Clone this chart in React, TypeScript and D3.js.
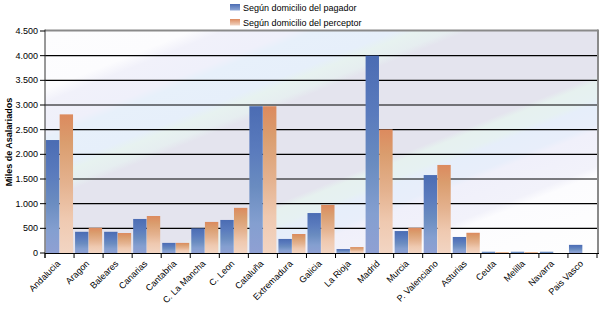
import React from 'react';
import * as d3 from 'd3';

const categories = ['Andalucia', 'Aragon', 'Baleares', 'Canarias', 'Cantabria', 'C. La Mancha', 'C. Leon', 'Cataluña', 'Extremadura', 'Galicia', 'La Rioja', 'Madrid', 'Murcia', 'P. Valenciano', 'Asturias', 'Ceuta', 'Melilla', 'Navarra', 'Pais Vasco'];
const pagador = [2290, 430, 430, 690, 205, 500, 670, 2975, 285, 810, 80, 4000, 445, 1580, 325, 25, 25, 25, 165];
const perceptor = [2810, 510, 405, 750, 205, 630, 915, 2975, 385, 975, 120, 2505, 510, 1785, 410, 18, 18, 0, 0];
const seriesNames = ['Según domicilio del pagador', 'Según domicilio del perceptor'];
const yTicks = [0, 500, 1000, 1500, 2000, 2500, 3000, 3500, 4000, 4500];

const W = 605;
const H = 310;
const margin = { top: 31, right: 8, bottom: 57, left: 45 };
const font = '"Liberation Sans", Arial, sans-serif';

// background band stops along the diagonal (t = 0..456)
const bgStops: [number, string][] = [
  [0, '#fefefe'], [100, '#fcfcfe'], [112, '#f1f1fa'], [138, '#eff0fa'], [146, '#e7f0fa'],
  [176, '#e6effa'], [184, '#e7f2f0'], [196, '#e6eef0'], [203, '#e4e4ee'], [292, '#e4e4ee'],
  [298, '#e6f1ef'], [312, '#e6f1f2'], [318, '#e6eefa'], [337, '#e8eefa'], [343, '#f0f0fa'],
  [376, '#f2f2fa'], [384, '#fcfcfe'], [456, '#fefefe'],
];

const fmt = (v: number) => d3.format(',')(v).replace(/,/g, '.');

export default function App() {
  const innerW = W - margin.left - margin.right;
  const innerH = H - margin.top - margin.bottom;

  const x = d3.scaleBand<string>().domain(categories).range([margin.left, margin.left + innerW])
    .paddingInner(0.07).paddingOuter(0.035);
  const x1 = d3.scaleBand<number>().domain([0, 1]).range([0, x.bandwidth()]).paddingInner(0.02);
  const y = d3.scaleLinear().domain([0, 4500]).range([margin.top + innerH, margin.top]);

  const series = [pagador, perceptor];
  const gradIds = ['gBlue', 'gOrange'];
  const y0 = y(0);
  const right = margin.left + innerW;

  // gradient direction perpendicular to the stripes
  const nx = 0.371, ny = 0.928, tMax = 456;

  return (
    <svg width={W} height={H} style={{ position: 'absolute', left: 0, top: 0, background: '#fff' }}>
      <defs>
        <linearGradient id="bg" gradientUnits="userSpaceOnUse" x1={0} y1={0} x2={nx * tMax} y2={ny * tMax}>
          {bgStops.map(([t, c], i) => <stop key={i} offset={t / tMax} stopColor={c} />)}
        </linearGradient>
        <linearGradient id="gBlue" x1="0" y1="0" x2="0" y2="1">
          <stop offset="0" stopColor="#4b6cb3" />
          <stop offset="0.3" stopColor="#5a7bbd" />
          <stop offset="0.55" stopColor="#6a8cc0" />
          <stop offset="0.8" stopColor="#849fd0" />
          <stop offset="1" stopColor="#8fa0d3" />
        </linearGradient>
        <linearGradient id="gOrange" x1="0" y1="0" x2="0" y2="1">
          <stop offset="0" stopColor="#dc8a5e" />
          <stop offset="0.2" stopColor="#da9d6e" />
          <stop offset="0.5" stopColor="#e4b28f" />
          <stop offset="0.75" stopColor="#efc9b0" />
          <stop offset="1" stopColor="#f2d5c3" />
        </linearGradient>
        <linearGradient id="lBlue" x1="0" y1="0" x2="0" y2="1">
          <stop offset="0" stopColor="#4b6cb3" />
          <stop offset="1" stopColor="#8fa8d6" />
        </linearGradient>
        <linearGradient id="lOrange" x1="0" y1="0" x2="0" y2="1">
          <stop offset="0" stopColor="#dc8a5e" />
          <stop offset="1" stopColor="#f2d5c3" />
        </linearGradient>
      </defs>

      {/* plot background */}
      <rect x={margin.left} y={margin.top} width={innerW} height={innerH} fill="url(#bg)" />

      {/* grid lines */}
      {yTicks.filter(t => t > 0 && t < 4500).map(t => (
        <line key={t} x1={margin.left} x2={right} y1={y(t)} y2={y(t)} stroke="#000" strokeWidth={1.1} />
      ))}

      {/* bars */}
      {categories.map((c, i) => (
        <g key={c} transform={`translate(${x(c)},0)`}>
          {series.map((s, j) => s[i] > 0 && (
            <rect key={j} x={x1(j)} y={y(s[i])} width={x1.bandwidth()} height={y0 - y(s[i])} fill={`url(#${gradIds[j]})`} />
          ))}
        </g>
      ))}

      {/* frame */}
      <line x1={margin.left} x2={right + 1} y1={margin.top - 0.5} y2={margin.top - 0.5} stroke="#8a8a8a" strokeWidth={2} />
      <line x1={right + 1} x2={right + 1} y1={margin.top - 1.5} y2={y0} stroke="#8a8a8a" strokeWidth={2} />
      <line x1={margin.left} x2={margin.left} y1={margin.top - 1.5} y2={y0 + 5} stroke="#333" strokeWidth={1} />
      <line x1={margin.left} x2={right + 2} y1={y0 + 0.5} y2={y0 + 0.5} stroke="#000" strokeWidth={1.2} />

      {/* y axis ticks and labels */}
      {yTicks.map(t => (
        <g key={t}>
          <line x1={margin.left - 5} x2={margin.left} y1={y(t)} y2={y(t)} stroke="#000" />
          <text x={margin.left - 7} y={y(t)} dy="0.35em" textAnchor="end" fontFamily={font} fontSize={9} fill="#000">{fmt(t)}</text>
        </g>
      ))}

      {/* x axis ticks */}
      {categories.map(c => (
        <line key={c} x1={(x(c) as number) - x.step() * x.paddingInner() / 2} x2={(x(c) as number) - x.step() * x.paddingInner() / 2} y1={y0} y2={y0 + 5} stroke="#000" />
      ))}
      <line x1={right} x2={right} y1={y0} y2={y0 + 5} stroke="#000" />

      {/* x labels */}
      {categories.map(c => {
        const cx = (x(c) as number) + x.bandwidth() / 2 - 1;
        return (
          <text key={c} transform={`translate(${cx},${y0 + 9}) rotate(-45)`} textAnchor="end" dy="0.35em"
            fontFamily={font} fontSize={9} fill="#000">{c}</text>
        );
      })}

      {/* y title */}
      <text transform={`translate(9,${margin.top + innerH / 2}) rotate(-90)`} textAnchor="middle" dy="0.35em"
        fontFamily={font} fontSize={9} fontWeight="bold" fill="#000">Miles de Asalariados</text>

      {/* legend */}
      {seriesNames.map((n, i) => (
        <g key={n} transform={`translate(230,${4 + i * 15})`}>
          <rect x={0} y={0} width={10} height={6.5} fill={i === 0 ? 'url(#lBlue)' : 'url(#lOrange)'} />
          <text x={13} y={6.5} fontFamily={font} fontSize={9} fill="#000">{n}</text>
        </g>
      ))}
    </svg>
  );
}
